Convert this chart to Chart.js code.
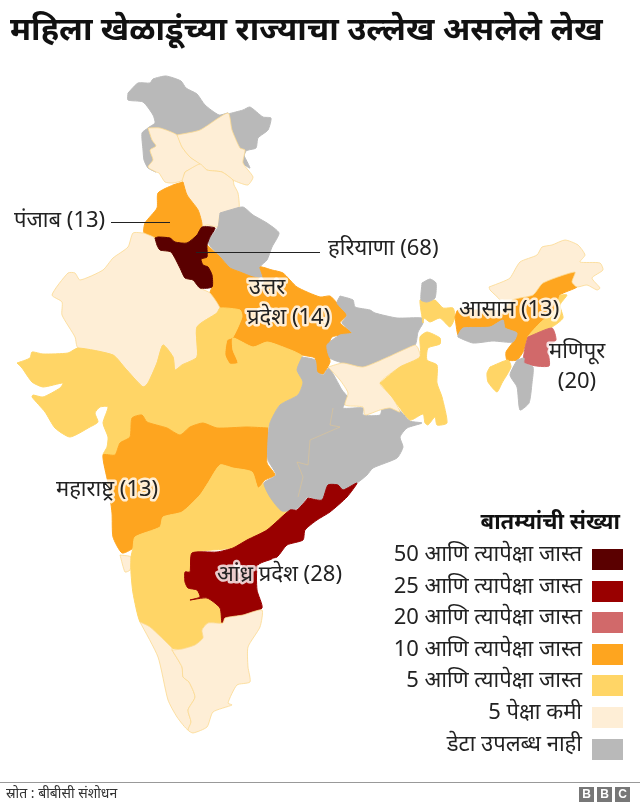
<!DOCTYPE html>
<html>
<head>
<meta charset="utf-8">
<style>
html,body{margin:0;padding:0;background:#fff}
canvas{display:block}
</style>
<script src="https://cdn.jsdelivr.net/npm/chart.js@4"></script>
</head>
<body>
<canvas id="map" width="640" height="808"></canvas>
<script>
// legend bins, highest first (null = no data)
var bin_labels = ['50 आणि त्यापेक्षा जास्त','25 आणि त्यापेक्षा जास्त','20 आणि त्यापेक्षा जास्त','10 आणि त्यापेक्षा जास्त','5 आणि त्यापेक्षा जास्त','5 पेक्षा कमी','डेटा उपलब्ध नाही'];
var bin_floors = [50,25,20,10,5,0];
var bin_colors = ['#5a0000','#990000','#d1696a','#fea51f','#ffd566','#feeed6','#b9b9b9'];

// articles per state. labelled ones are from the map, the rest only show their bin
var state_names = ['jk','jkWest','ladakhEast','kashmir','ladakh','himachal','punjab','uttarakhand','uttarPradesh','rajasthan','haryana','westCentral','maharashtra','goa','karnataka','eastGrey','bihar','jharkhand','bengal','bengalNorth','sikkim','assam','meghalaya','arunachal','nagaland','manipur','mizoram','tripura','andhra','kerala','tamilNadu'];
var state_counts = [null,null,null,3,3,3,13,null,14,3,68,7,13,3,7,null,null,3,7,7,null,13,null,3,7,20,null,7,28,3,3];

// outlines, in map units
var jk = [[128,93],[138,83],[150,83],[153,79],[166,76],[181,81],[186,88],[197,94],[205,105],[219,115],[228,113],[200,130],[177,135],[160,128],[148,128],[155,123],[153,115],[143,102],[128,100]];
var jkWest = [[148,128],[142,133],[143,150],[144,160],[148,168],[156,172],[148,167],[153,160],[150,150],[156,146],[152,140]];
var ladakhEast = [[228,114],[243,110],[250,107],[263,117],[271,118],[268,130],[258,138],[256,148],[246,151],[243,163],[250,168],[240,148],[232,130]];
var kashmir = [[148,128],[160,128],[177,135],[182,147],[190,157],[200,164],[185,172],[183,180],[173,183],[165,182],[159,173],[156,172],[148,167],[153,160],[150,150],[156,146],[152,140]];
var ladakh = [[177,135],[200,130],[228,113],[232,130],[240,148],[245,150],[243,163],[253,177],[248,185],[240,183],[233,180],[222,172],[207,170],[200,164],[190,157],[182,147]];
var himachal = [[185,172],[200,164],[207,170],[222,172],[233,180],[234,185],[238,193],[239,208],[232,213],[220,215],[218,227],[208,225],[202,226],[198,210],[187,195],[182,182]];
var punjab = [[183,182],[187,195],[198,210],[202,225],[197,235],[187,243],[175,242],[170,238],[158,237],[155,238],[144,233],[145,223],[157,208],[158,193],[173,185]];
var uttarakhand = [[220,213],[230,210],[243,207],[253,215],[267,223],[279,233],[272,247],[267,260],[260,267],[263,278],[253,277],[240,272],[230,268],[220,257],[208,242],[218,227]];
var uttarPradesh = [[207,245],[220,257],[230,268],[240,272],[253,277],[263,278],[260,267],[272,270],[283,273],[297,287],[320,297],[330,296],[337,303],[347,315],[340,323],[352,333],[332,337],[328,350],[330,362],[323,374],[317,372],[315,358],[302,355],[283,347],[267,342],[253,347],[233,338],[233,350],[238,363],[230,364],[225,355],[227,340],[233,337],[242,317],[240,310],[220,308],[210,293],[212,287],[212,275],[208,267],[203,265],[201,259],[207,257]];
var rajasthan = [[144,233],[133,233],[128,247],[113,258],[103,270],[80,280],[75,273],[68,273],[52,295],[62,302],[62,315],[75,337],[78,348],[113,355],[125,368],[143,387],[148,383],[157,363],[163,345],[173,357],[175,370],[182,365],[197,357],[197,327],[217,313],[220,308],[210,293],[200,288],[193,280],[185,278],[180,268],[171,252],[160,250],[157,245],[155,238]];
var haryana = [[155,238],[158,237],[170,238],[175,242],[187,243],[197,235],[202,227],[215,228],[210,237],[207,245],[207,257],[201,259],[203,265],[208,267],[212,275],[212,287],[200,288],[193,280],[185,278],[180,268],[171,252],[160,250],[157,245]];
var westCentral = [[17,363],[30,358],[32,352],[43,354],[68,353],[78,348],[113,355],[125,368],[143,387],[148,383],[157,363],[163,345],[173,357],[175,370],[182,365],[197,357],[197,327],[217,313],[220,308],[240,310],[242,317],[233,337],[227,340],[225,355],[230,364],[238,363],[233,350],[233,338],[253,347],[267,342],[283,347],[302,356],[297,370],[303,382],[298,395],[280,405],[270,423],[268,428],[247,427],[217,428],[203,423],[190,427],[180,435],[167,428],[147,422],[142,415],[132,418],[130,437],[120,443],[115,455],[103,455],[107,447],[108,437],[103,423],[108,407],[100,407],[95,413],[98,422],[90,427],[70,437],[55,428],[45,412],[32,397],[33,395],[43,397],[60,388],[63,383],[43,387],[32,382],[22,368]];
var maharashtra = [[268,428],[247,427],[217,428],[203,423],[190,427],[180,435],[167,428],[147,422],[142,415],[132,418],[130,437],[120,443],[115,455],[103,455],[108,483],[112,513],[113,537],[122,553],[133,548],[135,537],[160,527],[163,517],[182,512],[200,495],[208,483],[220,465],[233,468],[252,472],[258,488],[265,480],[275,475],[267,463],[268,447]];
var goa = [[120,555],[131,557],[130,570],[125,572]];
var karnataka = [[133,548],[135,537],[160,527],[163,517],[182,512],[200,495],[208,483],[220,465],[233,468],[252,472],[258,488],[265,483],[280,503],[290,510],[267,530],[247,540],[233,548],[193,553],[190,572],[185,572],[185,582],[188,588],[197,590],[200,597],[190,600],[207,598],[220,608],[223,623],[208,623],[202,630],[203,638],[195,645],[182,649],[172,648],[150,627],[140,622],[133,593],[131,573],[131,557]];
var eastGrey = [[302,357],[315,360],[317,372],[323,375],[329,368],[342,390],[348,398],[343,408],[363,408],[363,415],[380,415],[383,407],[397,408],[410,421],[422,423],[407,428],[400,437],[403,447],[397,458],[373,468],[367,475],[357,483],[343,490],[338,485],[328,485],[322,500],[308,497],[298,508],[282,511],[270,497],[264,483],[276,475],[268,460],[268,440],[270,423],[280,405],[298,395],[303,382],[297,370]];
var bihar = [[340,296],[353,300],[355,307],[370,310],[375,313],[397,318],[422,318],[423,323],[418,332],[415,345],[388,357],[363,367],[343,363],[330,358],[327,345],[340,335],[352,333],[342,323],[347,315],[337,303]];
var jharkhand = [[328,367],[343,363],[363,367],[388,357],[415,345],[418,348],[420,357],[400,367],[380,383],[392,397],[400,412],[390,408],[380,410],[365,415],[363,407],[345,405],[348,393],[340,380]];
var bengal = [[380,383],[400,367],[420,357],[420,337],[427,332],[440,338],[440,344],[428,348],[427,360],[437,365],[437,383],[442,397],[447,423],[437,425],[435,417],[428,425],[425,423],[423,414],[410,420],[392,397]];
var bengalNorth = [[423,323],[420,300],[427,302],[435,300],[443,308],[453,308],[455,317],[450,327],[440,318],[430,322],[424,318]];
var sikkim = [[422,283],[430,279],[436,283],[435,298],[427,302],[421,300]];
var assam = [[455,317],[458,310],[503,310],[512,300],[533,295],[543,283],[575,272],[572,282],[577,287],[560,295],[555,310],[540,323],[528,337],[523,352],[517,360],[507,360],[506,352],[513,342],[517,333],[505,328],[503,320],[490,327],[463,328],[458,335]];
var meghalaya = [[458,335],[463,328],[490,327],[503,320],[505,328],[517,333],[513,342],[493,341],[473,343],[458,337]];
var arunachal = [[489,287],[502,282],[510,278],[520,262],[537,255],[542,247],[552,245],[565,240],[578,245],[585,255],[580,262],[600,263],[603,270],[592,278],[600,288],[597,290],[587,285],[577,287],[572,282],[575,272],[543,283],[533,295],[512,300],[503,310],[500,300],[490,290]];
var nagaland = [[560,295],[567,295],[560,305],[563,318],[552,327],[528,337],[540,323],[555,310]];
var manipur = [[528,337],[552,328],[556,340],[548,347],[549,366],[524,363],[525,348]];
var mizoram = [[517,360],[524,358],[524,363],[533,367],[532,383],[529,403],[520,410],[517,387],[510,375]];
var tripura = [[490,367],[508,360],[511,367],[502,383],[497,392],[488,382],[487,373]];
var andhra = [[308,498],[322,500],[328,485],[338,485],[343,490],[357,483],[347,497],[330,512],[317,520],[305,530],[303,540],[287,545],[277,557],[258,565],[257,590],[262,608],[243,615],[225,618],[222,623],[220,608],[207,598],[190,600],[200,597],[197,590],[188,588],[185,582],[185,572],[190,572],[192,553],[217,552],[233,548],[247,540],[267,530],[290,510],[297,510]];
var kerala = [[140,622],[150,627],[172,648],[172,650],[182,667],[183,677],[189,682],[195,697],[188,710],[191,722],[188,730],[177,717],[168,700],[158,657]];
var tamilNadu = [[172,650],[182,649],[195,645],[203,638],[202,630],[208,623],[223,623],[225,618],[243,615],[262,610],[260,627],[248,647],[248,667],[250,682],[237,685],[228,703],[232,705],[213,712],[207,727],[193,733],[188,730],[191,722],[188,710],[195,697],[189,682],[183,677],[182,667]];
var outlines = [jk,jkWest,ladakhEast,kashmir,ladakh,himachal,punjab,uttarakhand,uttarPradesh,rajasthan,haryana,westCentral,maharashtra,goa,karnataka,eastGrey,bihar,jharkhand,bengal,bengalNorth,sikkim,assam,meghalaya,arunachal,nagaland,manipur,mizoram,tripura,andhra,kerala,tamilNadu];
// faint state border inside the grey block
var grey_border = [[333,408],[330,425],[340,427],[310,440],[308,465],[297,462],[303,477],[298,497]];

var FONT = '"Noto Sans","Noto Sans Devanagari",sans-serif';

function color_for(count){
    if(count === null) return bin_colors[bin_colors.length-1];
    for(var a = 0; a<bin_floors.length; a++){
        if(count >= bin_floors[a]) return bin_colors[a];
    }
}
function to_points(list){
    return list.concat([list[0]]).map(function(p){ return {x:p[0],y:p[1]}; });
}

var datasets = [];
for(var a = 0; a<outlines.length; a++){
    var fill_color = color_for(state_counts[a]);
    var light = fill_color === bin_colors[5];
    datasets.push({
        label:state_names[a],
        data:to_points(outlines[a]),
        showLine:true,
        fill:'shape',
        backgroundColor:fill_color,
        borderColor:light ? '#fbd98f' : fill_color,
        borderWidth:light ? 0.8 : 1,
        borderJoinStyle:'round',
        pointRadius:0,
        tension:0.2,
        order:outlines.length-a
    });
}
datasets.push({
    label:'greyBorder',
    data:grey_border.map(function(p){ return {x:p[0],y:p[1]}; }),
    showLine:true,
    fill:false,
    borderColor:'rgba(250,205,120,0.45)',
    borderWidth:0.8,
    pointRadius:0,
    order:0
});

function text(ctx,str,x,y,opt){
    opt = opt || {};
    ctx.font = (opt.bold ? 'bold ' : '') + (opt.size || 22) + 'px ' + FONT;
    ctx.textAlign = opt.align || 'left';
    ctx.textBaseline = 'middle';
    if(opt.halo){
        ctx.lineJoin = 'round';
        ctx.lineWidth = 5;
        ctx.strokeStyle = 'rgba(255,255,255,0.8)';
        ctx.strokeText(str,x,y);
    }
    ctx.fillStyle = opt.color || '#222';
    ctx.fillText(str,x,y);
}

var overlay = {
    id:'overlay',
    afterDraw:function(chart){
        var ctx = chart.ctx;
        var sx = chart.scales.x, sy = chart.scales.y;
        ctx.save();
        text(ctx,'महिला खेळाडूंच्या राज्याचा उल्लेख असलेले लेख',10,31,{bold:true,size:32.4,color:'#111'});

        // leaders
        ctx.strokeStyle = '#222';
        ctx.lineWidth = 1;
        ctx.beginPath();
        ctx.moveTo(sx.getPixelForValue(111),sy.getPixelForValue(222)+.5);
        ctx.lineTo(sx.getPixelForValue(170),sy.getPixelForValue(222)+.5);
        ctx.moveTo(sx.getPixelForValue(196),sy.getPixelForValue(252)+.5);
        ctx.lineTo(sx.getPixelForValue(320),sy.getPixelForValue(252)+.5);
        ctx.stroke();

        text(ctx,'पंजाब (13)',14,221);
        text(ctx,'हरियाणा (68)',328,249);
        text(ctx,'उत्तर',267,288,{align:'center',halo:true});
        text(ctx,'प्रदेश (14)',247,318,{halo:true});
        text(ctx,'आसाम (13)',459,310,{halo:true});
        text(ctx,'मणिपूर',549,352,{halo:true});
        text(ctx,'(20)',577,382,{align:'center'});
        text(ctx,'महाराष्ट्र (13)',56,490,{halo:true});
        text(ctx,'आंध्र प्रदेश (28)',217,575,{halo:true});

        // legend
        text(ctx,'बातम्यांची संख्या',620,523,{bold:true,size:22,align:'right',color:'#111'});
        var row_y = [549,581,612,644,675,707,739];
        for(var a = 0; a<bin_labels.length; a++){
            ctx.fillStyle = bin_colors[a];
            ctx.fillRect(592,row_y[a],31,21);
            text(ctx,bin_labels[a],582,row_y[a]+6,{size:22,align:'right'});
        }

        // footer
        ctx.fillStyle = '#999';
        ctx.fillRect(0,782,640,1);
        text(ctx,'स्रोत : बीबीसी संशोधन',6,794,{size:14,color:'#333'});
        var bbc = ['B','B','C'];
        var bbc_x = [579,597,615];
        for(var b = 0; b<bbc.length; b++){
            ctx.fillStyle = '#777';
            ctx.fillRect(bbc_x[b],787,15,15);
            ctx.font = 'bold 12px "Liberation Sans",sans-serif';
            ctx.textAlign = 'center';
            ctx.textBaseline = 'middle';
            ctx.fillStyle = '#fff';
            ctx.fillText(bbc[b],bbc_x[b]+7.5,795);
        }
        ctx.restore();
    }
};

new Chart(document.getElementById('map'),{
    type:'scatter',
    data:{datasets:datasets},
    options:{
        responsive:false,
        animation:false,
        devicePixelRatio:1,
        layout:{padding:0},
        plugins:{legend:{display:false},tooltip:{enabled:false}},
        scales:{
            x:{type:'linear',min:0,max:640,display:false},
            y:{type:'linear',min:0,max:808,reverse:true,display:false}
        }
    },
    plugins:[overlay]
});
</script>
</body>
</html>
